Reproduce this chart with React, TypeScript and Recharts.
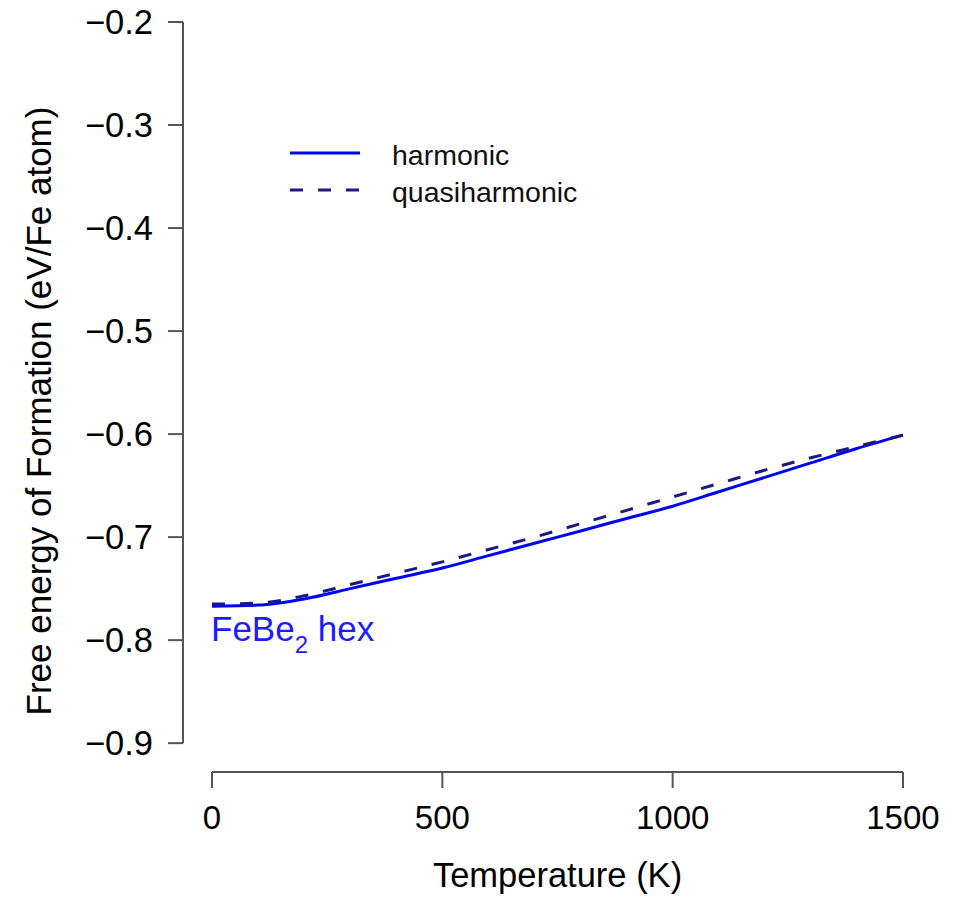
import React from 'react';
import { LineChart, Line, XAxis, YAxis, ReferenceLine, Legend } from 'recharts';

const temperatures = [0, 100, 200, 300, 400, 500, 600, 700, 800, 900, 1000, 1100, 1200, 1300, 1400, 1500];
const harmonic = [-0.767, -0.766, -0.760, -0.750, -0.740, -0.730, -0.718, -0.706, -0.694, -0.682, -0.670, -0.656, -0.642, -0.628, -0.614, -0.601];
const quasiharmonic = [-0.765, -0.764, -0.757, -0.746, -0.735, -0.724, -0.712, -0.700, -0.687, -0.674, -0.661, -0.648, -0.635, -0.623, -0.612, -0.601];
const xTicks = [0, 500, 1000, 1500];
const yTicks = [-0.9, -0.8, -0.7, -0.6, -0.5, -0.4, -0.3, -0.2];

const X_DOMAIN: [number, number] = [-63, 1563];
const Y_DOMAIN: [number, number] = [-0.928, -0.2];

const rows = temperatures.map((t, i) => ({ t, harmonic: harmonic[i], quasiharmonic: quasiharmonic[i] }));

const FONT = '"Liberation Sans", Arial, Helvetica, sans-serif';
const AXIS = '#555555';
const BLUE = '#0000ff';
const NAVY = '#1a1a80';

const fmtY = (v: number) => v.toFixed(1).replace('-', '\u2212');

const YTitle = (props: any) => {
  const vb = props.viewBox || { x: 0, y: 22, width: 183, height: 750 };
  const cx = vb.x + 38;
  const cy = vb.y + vb.height / 2 + 14;
  return (
    <text x={cx} y={cy} transform={`rotate(-90 ${cx} ${cy})`} textAnchor="middle" dominantBaseline="central"
      fontFamily={FONT} fontSize={35} fill="#000">
      Free energy of Formation (eV/Fe atom)
    </text>
  );
};

const XTitle = (props: any) => {
  const vb = props.viewBox || { x: 183, y: 772, width: 749, height: 130 };
  return (
    <text x={vb.x + vb.width / 2} y={vb.y + 115} textAnchor="middle" fontFamily={FONT} fontSize={34.5} fill="#000">
      Temperature (K)
    </text>
  );
};

const LegendContent = (props: any) => {
  const payload = props.payload || [];
  return (
    <svg width={320} height={90} style={{ display: 'block' }}>
      {payload.map((p: any, i: number) => {
        const y = 23 + i * 37;
        const dash = p.payload && p.payload.strokeDasharray;
        return (
          <g key={i}>
            <line x1={10} x2={80} y1={y} y2={y} stroke={p.color} strokeWidth={3} strokeDasharray={dash} />
            <text x={112} y={y + 12} fontFamily={FONT} fontSize={28.5} fill="#111">{p.value}</text>
          </g>
        );
      })}
    </svg>
  );
};

export default function App() {
  return (
    <div style={{ position: 'relative', width: 964, height: 902, background: '#fff' }}>
      <style>{`body{margin:0;background:#fff}`}</style>
      <LineChart width={964} height={902} data={rows} margin={{ top: 22, right: 32, bottom: 0, left: 0 }}>
        <XAxis
          dataKey="t"
          type="number"
          domain={X_DOMAIN}
          ticks={xTicks}
          interval={0}
          height={130}
          axisLine={false}
          tickSize={16}
          tickMargin={18}
          tickLine={{ stroke: AXIS, strokeWidth: 2 }}
          tick={{ fill: '#000', fontSize: 33, fontFamily: FONT }}
          label={{ content: (p: any) => <XTitle {...p} /> }}
        />
        <YAxis
          type="number"
          domain={Y_DOMAIN}
          ticks={yTicks}
          interval={0}
          width={183}
          axisLine={false}
          tickSize={15}
          tickMargin={15}
          tickFormatter={fmtY}
          tickLine={{ stroke: AXIS, strokeWidth: 2 }}
          tick={{ fill: '#000', fontSize: 34.5, fontFamily: FONT }}
          label={{ content: (p: any) => <YTitle {...p} /> }}
        />
        <ReferenceLine
          segment={[{ x: X_DOMAIN[0], y: yTicks[0] }, { x: X_DOMAIN[0], y: yTicks[yTicks.length - 1] }]}
          stroke={AXIS}
          strokeWidth={2}
          ifOverflow="visible"
        />
        <ReferenceLine
          segment={[{ x: xTicks[0], y: Y_DOMAIN[0] }, { x: xTicks[xTicks.length - 1], y: Y_DOMAIN[0] }]}
          stroke={AXIS}
          strokeWidth={2}
          ifOverflow="visible"
        />
        <Legend
          layout="vertical"
          align="center"
          verticalAlign="middle"
          content={(p: any) => <LegendContent {...p} />}
          wrapperStyle={{ left: 280, top: 130, width: 320, height: 90 }}
        />
        <Line
          dataKey="harmonic"
          name="harmonic"
          type="monotone"
          stroke={BLUE}
          strokeWidth={3}
          dot={false}
          activeDot={false}
          isAnimationActive={false}
        />
        <Line
          dataKey="quasiharmonic"
          name="quasiharmonic"
          type="monotone"
          stroke={NAVY}
          strokeWidth={3}
          strokeDasharray="13 15"
          dot={false}
          activeDot={false}
          isAnimationActive={false}
        />
      </LineChart>
      <svg width={964} height={902} style={{ position: 'absolute', left: 0, top: 0, pointerEvents: 'none' }}>
        <text x={211} y={641} fontFamily={FONT} fontSize={35} fill="#1c1cff">
          FeBe<tspan fontSize={24} dy={12}>2</tspan><tspan dy={-12}> hex</tspan>
        </text>
      </svg>
    </div>
  );
}
